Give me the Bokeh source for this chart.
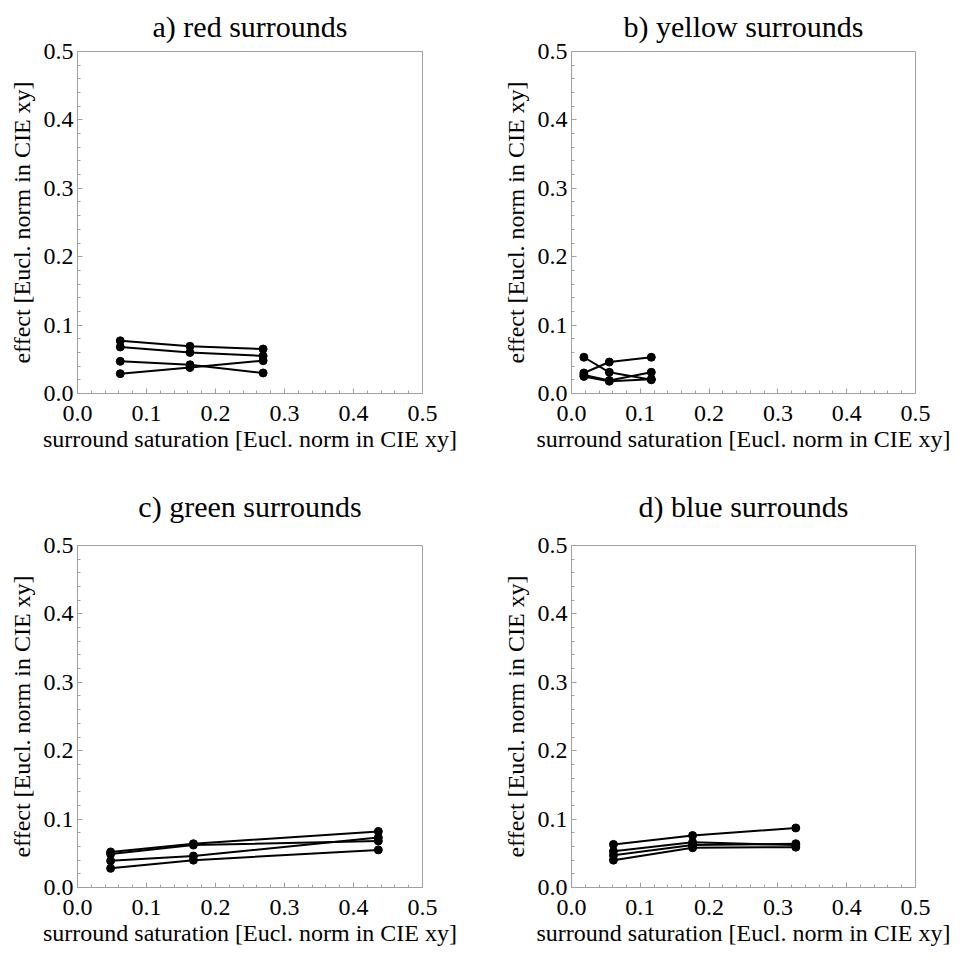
from bokeh.plotting import figure
from bokeh.layouts import gridplot
from bokeh.models import Range1d, SingleIntervalTicker, PrintfTickFormatter
from bokeh.embed import file_html
from bokeh.resources import INLINE

# ---- data ----
titles = ["a) red surrounds", "b) yellow surrounds", "c) green surrounds", "d) blue surrounds"]
x_label = "surround saturation [Eucl. norm in CIE xy]"
y_label = "effect [Eucl. norm in CIE xy]"

red_sat = [0.062, 0.163, 0.269]
red_s1 = [0.077, 0.069, 0.065]
red_s2 = [0.068, 0.060, 0.055]
red_s3 = [0.047, 0.042, 0.030]
red_s4 = [0.029, 0.038, 0.048]

yellow_sat = [0.018, 0.055, 0.116]
yellow_s1 = [0.053, 0.031, 0.020]
yellow_s2 = [0.030, 0.046, 0.053]
yellow_s3 = [0.027, 0.019, 0.031]
yellow_s4 = [0.025, 0.018, 0.021]

green_sat = [0.048, 0.168, 0.436]
green_s1 = [0.052, 0.064, 0.082]
green_s2 = [0.049, 0.062, 0.068]
green_s3 = [0.039, 0.046, 0.073]
green_s4 = [0.028, 0.040, 0.055]

blue_sat = [0.061, 0.176, 0.326]
blue_s1 = [0.063, 0.076, 0.087]
blue_s2 = [0.053, 0.066, 0.062]
blue_s3 = [0.047, 0.062, 0.064]
blue_s4 = [0.040, 0.058, 0.059]

panels = [
    (red_sat, [red_s1, red_s2, red_s3, red_s4]),
    (yellow_sat, [yellow_s1, yellow_s2, yellow_s3, yellow_s4]),
    (green_sat, [green_s1, green_s2, green_s3, green_s4]),
    (blue_sat, [blue_s1, blue_s2, blue_s3, blue_s4]),
]

FONT = "'Liberation Serif', 'Times New Roman', serif"
GRAY = "#a0a0a0"

# layout geometry per panel: (width, height, left, right, top, bottom, title standoff)
geom = [
    (483, 466, 77, 61, 49, 73, 16),
    (484, 466, 88, 52, 49, 73, 16),
    (483, 494, 77, 61, 78, 73, 44),
    (484, 494, 88, 52, 78, 73, 44),
]


def style_axis(ax, standoff, label_standoff):
    ax.ticker = SingleIntervalTicker(interval=0.1, num_minor_ticks=5)
    ax.formatter = PrintfTickFormatter(format="%.1f")
    ax.axis_line_color = None
    ax.major_tick_in = 5
    ax.major_tick_out = 0
    ax.minor_tick_in = 3
    ax.minor_tick_out = 0
    ax.major_tick_line_color = GRAY
    ax.minor_tick_line_color = GRAY
    ax.major_label_text_font = FONT
    ax.major_label_text_color = "black"
    ax.major_label_text_font_size = "24px"
    ax.major_label_standoff = standoff
    ax.axis_label_text_font = FONT
    ax.axis_label_text_font_style = "normal"
    ax.axis_label_text_color = "black"
    ax.axis_label_text_font_size = "24px"
    ax.axis_label_standoff = label_standoff


figs = []
for (sat, series), title, (w, h, l, r, t, b, ts) in zip(panels, titles, geom):
    p = figure(width=w, height=h, output_backend="svg", toolbar_location=None,
               x_range=Range1d(0, 0.5), y_range=Range1d(0, 0.5),
               min_border_left=l, min_border_right=r,
               min_border_top=t, min_border_bottom=b)
    p.title.text = title
    p.title.text_font = FONT
    p.title.text_font_size = "30px"
    p.title.text_font_style = "normal"
    p.title.align = "center"
    p.title.vertical_align = "middle"
    p.title.text_color = "black"
    p.title.standoff = ts
    p.grid.visible = False
    p.outline_line_color = GRAY
    p.outline_line_width = 1
    p.xaxis.axis_label = x_label
    p.yaxis.axis_label = y_label
    style_axis(p.xaxis[0], 12, 2)
    style_axis(p.yaxis[0], 4, 6)
    for s in series:
        p.line(sat, s, line_color="black", line_width=2)
        p.scatter(sat, s, size=8, color="black")
    p.background_fill_color = "white"
    p.border_fill_color = "white"
    figs.append(p)

grid = gridplot([[figs[0], figs[1]], [figs[2], figs[3]]], toolbar_location=None)

open("out.html", "w").write(file_html(grid, INLINE))
